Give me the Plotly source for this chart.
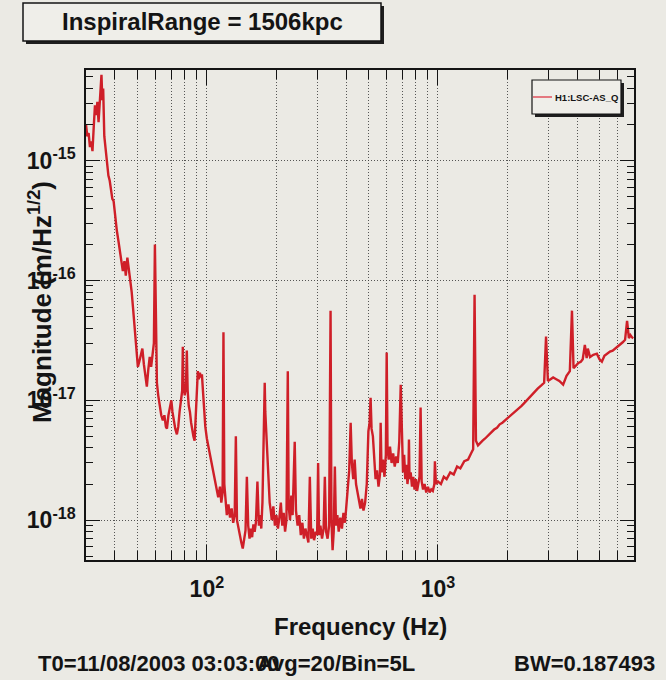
import math
import plotly.graph_objects as go

# ---------------- data ----------------
freq_low = [30.0, 30.4, 30.8, 31.2, 31.6, 32.0, 32.4, 32.8, 33.2, 33.6,
            34.0, 34.5, 35.0, 35.3, 35.6, 36.0, 36.5, 37.0, 37.5, 38.0,
            38.5, 39.0, 39.5, 40.0, 40.8, 41.5, 42.0, 42.7, 43.3, 44.0,
            44.6, 45.3, 46.0, 46.6, 47.3, 47.9, 48.5, 49.0, 49.6, 50.3,
            51.0, 51.8, 52.6, 53.4, 54.2, 55.0, 55.8, 56.6, 57.4, 58.2,
            59.0, 59.6, 60.2, 60.8, 61.6, 62.5, 63.5, 64.5, 65.5, 66.5,
            67.2, 68.2, 69.2, 70.2, 71.0, 72.0, 73.0, 74.2, 75.2, 76.2,
            77.2, 78.2, 78.7, 79.2, 80.2, 81.2, 81.9, 82.6, 83.5, 84.5,
            85.5, 86.5, 87.5, 88.5, 89.5, 90.5, 91.4, 92.3, 93.3, 94.2,
            95.2, 96.2, 97.2, 98.5]
asd_low = [2.0e-15, 1.6e-15, 1.7e-15, 1.3e-15, 1.45e-15, 1.2e-15, 1.9e-15, 2.9e-15, 2.4e-15, 3.1e-15,
           2.1e-15, 3.8e-15, 5.2e-15, 3.2e-15, 4.0e-15, 1.6e-15, 1.2e-15, 1.0e-15, 7.5e-16, 6.8e-16,
           5.6e-16, 4.8e-16, 4.6e-16, 3.6e-16, 2.6e-16, 2.1e-16, 1.75e-16, 1.35e-16, 1.2e-16, 1.45e-16,
           1.1e-16, 1.55e-16, 1.25e-16, 1.0e-16, 8.0e-17, 6.0e-17, 4.5e-17, 3.5e-17, 2.6e-17, 1.9e-17,
           2.1e-17, 2.4e-17, 2.7e-17, 2.0e-17, 1.6e-17, 1.3e-17, 1.8e-17, 2.3e-17, 1.9e-17, 2.6e-17,
           3.0e-17, 2.0e-16, 2.8e-17, 1.4e-17, 1.1e-17, 9.0e-18, 7.5e-18, 6.8e-18, 7.5e-18, 6.0e-18,
           5.8e-18, 7.5e-18, 8.5e-18, 1.0e-17, 8.0e-18, 6.5e-18, 5.8e-18, 5.2e-18, 6.0e-18, 8.0e-18,
           1.0e-17, 1.2e-17, 2.8e-17, 1.4e-17, 1.1e-17, 1.3e-17, 2.6e-17, 1.2e-17, 9.0e-18, 8.0e-18,
           6.5e-18, 5.5e-18, 5.0e-18, 4.6e-18, 7.0e-18, 1.3e-17, 1.75e-17, 1.5e-17, 1.7e-17, 1.55e-17,
           1.65e-17, 1.2e-17, 8.0e-18, 6.0e-18]

freq_mid = [100, 102, 104, 106, 108, 110, 112, 114, 115.5, 117,
            118, 119, 120.5, 122, 124, 126, 128, 130, 132, 133.5,
            135, 137, 139, 141, 143, 145, 147, 149, 151, 153,
            155, 157, 159, 161, 163, 165.5, 168, 170, 172, 174,
            176, 178, 179, 180, 181.5, 183, 185, 187, 189, 191,
            194, 197, 200, 203, 206, 209, 212, 215, 218, 221,
            224, 226, 229, 232, 235, 240, 243, 247, 251, 255,
            259, 263, 267, 271, 275, 279, 283, 287, 291, 296,
            300, 303, 306, 310, 315, 320, 324, 328, 333, 338,
            343, 346, 350, 354, 358, 362, 367, 372, 378, 384,
            390, 396, 402, 408, 413, 419, 424, 430, 436, 442,
            448, 455, 462, 469, 476, 484, 492, 500, 506, 511,
            516, 523, 530, 537, 545, 553, 561, 565, 570, 578,
            587, 595, 600, 605, 612, 620, 630, 640, 650, 660,
            670, 680, 690, 698, 706, 714, 722, 730, 738, 745,
            749, 753, 762, 772, 782, 792, 802, 812, 822, 832,
            841, 850, 862, 875, 890, 905, 920, 935, 950, 965,
            970, 980]
asd_mid = [4.8e-18, 3.9e-18, 3.3e-18, 2.7e-18, 2.3e-18, 1.8e-18, 1.55e-18, 1.9e-18, 1.4e-18, 1.7e-18,
           3.7e-17, 2.0e-18, 1.4e-18, 1.1e-18, 1.35e-18, 1.05e-18, 1.25e-18, 9.5e-19, 1.1e-18, 5.0e-18,
           1.0e-18, 8.5e-19, 7.5e-19, 6.5e-19, 5.8e-19, 7.0e-19, 8.2e-19, 2.3e-18, 9.0e-19, 7.0e-19,
           8.5e-19, 7.2e-19, 9.2e-19, 8.0e-19, 9.5e-19, 2.1e-18, 9.0e-19, 1.1e-18, 8.5e-19, 1.4e-18,
           4.0e-18, 1.4e-17, 8.0e-18, 6.5e-18, 5.0e-18, 3.0e-18, 2.0e-18, 1.4e-18, 1.2e-18, 1.0e-18,
           1.3e-18, 9.0e-19, 1.1e-18, 8.5e-19, 1.05e-18, 1.4e-18, 9.0e-19, 1.15e-18, 8.0e-19, 1.0e-18,
           1.75e-17, 1.3e-18, 1.0e-18, 1.6e-18, 1.1e-18, 4.5e-18, 1.2e-18, 9.0e-19, 1.1e-18, 7.5e-19,
           9.5e-19, 7.0e-19, 8.5e-19, 7.5e-19, 6.5e-19, 2.3e-18, 7.0e-19, 8.5e-19, 6.8e-19, 8.0e-19,
           7.5e-19, 3.0e-18, 7.5e-19, 9.0e-19, 7.0e-19, 8.5e-19, 2.3e-18, 8.0e-19, 7.0e-19, 9.0e-19,
           5.6e-17, 1.0e-18, 5.6e-19, 8.0e-19, 2.8e-18, 9.0e-19, 1.1e-18, 8.0e-19, 1.05e-18, 8.5e-19,
           1.15e-18, 9.5e-19, 1.3e-18, 1.8e-18, 2.6e-18, 6.5e-18, 3.0e-18, 2.2e-18, 3.2e-18, 2.0e-18,
           1.7e-18, 1.4e-18, 1.25e-18, 1.5e-18, 1.2e-18, 1.4e-18, 2.0e-18, 5.5e-18, 6.5e-18, 1.05e-17,
           5.8e-18, 5.0e-18, 3.0e-18, 2.2e-18, 2.6e-18, 1.9e-18, 2.4e-18, 6.5e-18, 2.5e-18, 3.2e-18,
           2.3e-18, 3.5e-18, 2.5e-17, 4.0e-18, 3.2e-18, 4.1e-18, 3.0e-18, 3.6e-18, 2.8e-18, 3.4e-18,
           3.0e-18, 4.5e-18, 1.35e-17, 4.0e-18, 2.5e-18, 3.5e-18, 2.2e-18, 2.9e-18, 2.0e-18, 2.4e-18,
           4.7e-18, 2.2e-18, 2.5e-18, 1.9e-18, 2.3e-18, 1.8e-18, 2.2e-18, 1.75e-18, 2.0e-18, 2.3e-18,
           8.7e-18, 2.1e-18, 1.8e-18, 2.0e-18, 1.7e-18, 1.9e-18, 1.7e-18, 1.8e-18, 1.75e-18, 2.0e-18,
           3.1e-18, 2.0e-18]

freq_high = [1000, 1030, 1060, 1090, 1130, 1170, 1210, 1250, 1300, 1350,
             1390, 1420, 1440, 1460, 1490, 1520, 1560, 1600, 1650, 1700,
             1750, 1800, 1850, 1900, 1950, 2000, 2100, 2200, 2300, 2400,
             2500, 2600, 2700, 2800, 2880, 2935, 2990, 3070, 3150, 3250,
             3350, 3480, 3600, 3720, 3800, 3860, 3950, 4050, 4150, 4230,
             4320, 4400, 4450, 4550, 4700, 4870, 5000, 5120, 5250, 5400,
             5550, 5700, 5850, 6000, 6150, 6300, 6450, 6580, 6700, 6800,
             6920, 7000]
asd_high = [2.1e-18, 2.0e-18, 2.3e-18, 2.2e-18, 2.5e-18, 2.4e-18, 2.8e-18, 2.7e-18, 3.1e-18, 3.2e-18,
            3.6e-18, 3.9e-18, 7.6e-17, 4.6e-18, 4.2e-18, 4.4e-18, 4.6e-18, 4.8e-18, 5.1e-18, 5.3e-18,
            5.7e-18, 5.9e-18, 6.3e-18, 6.5e-18, 6.8e-18, 7.0e-18, 7.6e-18, 8.3e-18, 9.0e-18, 9.8e-18,
            1.07e-17, 1.15e-17, 1.25e-17, 1.33e-17, 1.4e-17, 3.4e-17, 1.45e-17, 1.5e-17, 1.55e-17, 1.5e-17,
            1.45e-17, 1.35e-17, 1.6e-17, 1.75e-17, 5.6e-17, 1.85e-17, 1.95e-17, 2.05e-17, 2.1e-17, 2.2e-17,
            2.9e-17, 2.25e-17, 2.7e-17, 2.3e-17, 2.4e-17, 2.45e-17, 2.2e-17, 2.1e-17, 2.35e-17, 2.45e-17,
            2.55e-17, 2.6e-17, 2.7e-17, 2.8e-17, 2.95e-17, 3.05e-17, 3.2e-17, 4.6e-17, 3.3e-17, 3.5e-17,
            3.35e-17, 3.3e-17]

freq_hz = freq_low + freq_mid + freq_high
asd = asd_low + asd_mid + asd_high

x_major = [100, 1000]
x_major_text = ["10<sup>2</sup>", "10<sup>3</sup>"]
x_minor = [30, 40, 50, 60, 70, 80, 90, 200, 300, 400, 500, 600, 700, 800, 900,
           2000, 3000, 4000, 5000, 6000, 7000]
y_major = [1e-18, 1e-17, 1e-16, 1e-15]
y_major_text = ["10<sup>-18</sup>", "10<sup>-17</sup>", "10<sup>-16</sup>", "10<sup>-15</sup>"]
y_minor = [5e-19, 6e-19, 7e-19, 8e-19, 9e-19,
           2e-18, 3e-18, 4e-18, 5e-18, 6e-18, 7e-18, 8e-18, 9e-18,
           2e-17, 3e-17, 4e-17, 5e-17, 6e-17, 7e-17, 8e-17, 9e-17,
           2e-16, 3e-16, 4e-16, 5e-16, 6e-16, 7e-16, 8e-16, 9e-16,
           2e-15, 3e-15, 4e-15, 5e-15]

title_text = "InspiralRange = 1506kpc"
legend_text = "H1:LSC-AS_Q"
x_title = "Frequency (Hz)"
y_title = "Magnitude (m/Hz<sup>1/2</sup>)"
footer_left = "T0=11/08/2003 03:03:00"
footer_mid = "Avg=20/Bin=5L"
footer_right = "BW=0.187493"

# ---------------- layout helpers ----------------
W, H = 666, 680
L, R, T, B = 86, 634, 70, 560
BG = "#ebeae4"
FONT = "Liberation Sans, Arial, sans-serif"
INK = "#141414"
LINE = "#cf1f28"


def px(x):
    return (x - L) / (R - L)


def py(y):
    return (B - y) / (B - T)


fig = go.Figure()
fig.add_trace(go.Scatter(x=freq_hz, y=asd, mode="lines",
                         line=dict(color=LINE, width=2.4), showlegend=False,
                         hoverinfo="skip"))

grid = dict(gridcolor="rgba(60,60,60,0.85)", gridwidth=1, griddash="1px,2px")

fig.update_layout(
    width=W, height=H,
    margin=dict(l=L, r=W - R, t=T, b=H - B),
    paper_bgcolor=BG, plot_bgcolor=BG,
    showlegend=False,
    xaxis=dict(type="log", range=[math.log10(30), math.log10(7050)],
               tickmode="array", tickvals=x_major, ticktext=x_major_text,
               ticks="inside", ticklen=15, tickwidth=1.2, tickcolor=INK,
               mirror="allticks", showline=True, linecolor=INK, linewidth=1.5,
               showgrid=True, **grid, zeroline=False,
               tickfont=dict(family=FONT, size=23, color=INK, weight="bold"),
               ticklabelstandoff=8,
               minor=dict(tickmode="array", tickvals=x_minor, ticks="inside",
                          ticklen=9, tickwidth=1.2, tickcolor=INK, showgrid=True,
                          **grid)),
    yaxis=dict(type="log", range=[-18.333, -14.243],
               tickmode="array", tickvals=y_major, ticktext=y_major_text,
               ticks="inside", ticklen=14, tickwidth=1.2, tickcolor=INK,
               mirror="allticks", showline=True, linecolor=INK, linewidth=1.5,
               showgrid=True, **grid, zeroline=False,
               tickfont=dict(family=FONT, size=23, color=INK, weight="bold"),
               ticklabelstandoff=4,
               minor=dict(tickmode="array", tickvals=y_minor, ticks="inside",
                          ticklen=7, tickwidth=1.2, tickcolor=INK, showgrid=False)),
)

shapes = []
# title box with shadow
shapes.append(dict(type="rect", xref="paper", yref="paper",
                   x0=px(26), x1=px(384), y0=py(44), y1=py(6),
                   fillcolor="#1e1e1e", line=dict(width=0), layer="above"))
shapes.append(dict(type="rect", xref="paper", yref="paper",
                   x0=px(23), x1=px(381), y0=py(41), y1=py(3),
                   fillcolor="#efeee9", line=dict(color=INK, width=1.5), layer="above"))
# legend box with shadow
shapes.append(dict(type="rect", xref="paper", yref="paper",
                   x0=px(535), x1=px(624), y0=py(117), y1=py(83),
                   fillcolor="#1e1e1e", line=dict(width=0), layer="above"))
shapes.append(dict(type="rect", xref="paper", yref="paper",
                   x0=px(532), x1=px(621), y0=py(114), y1=py(80),
                   fillcolor="#efeee9", line=dict(color=INK, width=1.2), layer="above"))
shapes.append(dict(type="line", xref="paper", yref="paper",
                   x0=px(533), x1=px(552), y0=py(97), y1=py(97),
                   line=dict(color="#e0505c", width=1.5), layer="above"))
fig.update_layout(shapes=shapes)

ann = []
ann.append(dict(text=title_text, xref="paper", yref="paper", x=px(202), y=py(22),
                showarrow=False, xanchor="center", yanchor="middle",
                font=dict(family=FONT, size=24, color=INK, weight="bold")))
ann.append(dict(text=legend_text, xref="paper", yref="paper", x=px(553), y=py(97),
                showarrow=False, xanchor="left", yanchor="middle",
                font=dict(family=FONT, size=9.5, color=INK, weight="bold")))
ann.append(dict(text=x_title, xref="paper", yref="paper", x=px(360), y=py(626),
                showarrow=False, xanchor="center", yanchor="middle",
                font=dict(family=FONT, size=24, color=INK, weight="bold")))
ann.append(dict(text=y_title, xref="paper", yref="paper", x=px(40), y=py(302),
                showarrow=False, xanchor="center", yanchor="middle", textangle=-90,
                font=dict(family=FONT, size=26, color=INK, weight="bold")))
ann.append(dict(text=footer_left, xref="paper", yref="paper", x=px(36), y=py(663),
                showarrow=False, xanchor="left", yanchor="middle",
                font=dict(family=FONT, size=22, color=INK, weight="bold")))
ann.append(dict(text=footer_mid, xref="paper", yref="paper", x=px(255), y=py(663),
                showarrow=False, xanchor="left", yanchor="middle",
                font=dict(family=FONT, size=22, color=INK, weight="bold")))
ann.append(dict(text=footer_right, xref="paper", yref="paper", x=px(657), y=py(663),
                showarrow=False, xanchor="right", yanchor="middle",
                font=dict(family=FONT, size=22, color=INK, weight="bold")))
fig.update_layout(annotations=ann)

fig.write_html("out.html")
